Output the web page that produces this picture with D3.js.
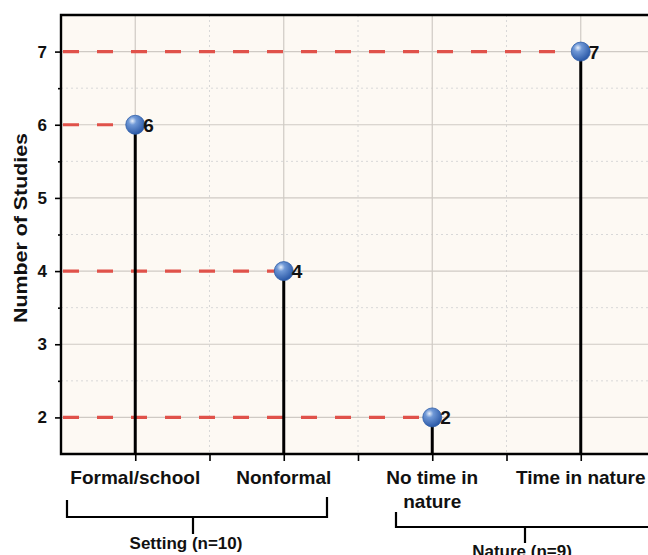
<!DOCTYPE html>
<html>
<head>
	<title>number of studies</title>
	<script src="https://cdn.jsdelivr.net/npm/d3@7"></script>
	<style>
		body { margin: 0; background: #fff; }
		text { font-family: "Liberation Sans", Arial, sans-serif; font-weight: bold; fill: #111; }
	</style>
</head>
<body>
	<script type="text/javascript">

		var categories = ["Formal/school", "Nonformal", "No time in\nnature", "Time in nature"];
		var counts = [6, 4, 2, 7];
		var yTicks = [2, 3, 4, 5, 6, 7];

		var width = 648;
		var height = 555;
		var padLeft = 61, padTop = 15, padBottom = 454;
		var step = 148.5;

		var x = d3.scaleLinear()
			.domain([-0.5, 3.5])
			.range([padLeft, padLeft + step * 4]);

		var y = d3.scaleLinear()
			.domain([1.5, 7.5])
			.range([padBottom, padTop]);

		var svg = d3.select("body").append("svg")
			.attr("width", width)
			.attr("height", height);

		var defs = svg.append("defs");
		var grad = defs.append("radialGradient")
			.attr("id", "ball")
			.attr("cx", "35%").attr("cy", "30%").attr("r", "70%");
		grad.append("stop").attr("offset", "0%").attr("stop-color", "#e8f0fb");
		grad.append("stop").attr("offset", "30%").attr("stop-color", "#6f98d6");
		grad.append("stop").attr("offset", "100%").attr("stop-color", "#2c5aa8");

		// plot background
		svg.append("rect")
			.attr("x", padLeft).attr("y", padTop)
			.attr("width", x(3.5) - padLeft).attr("height", padBottom - padTop)
			.attr("fill", "#fdf9f3");

		var minorY = d3.range(2.5, 7.5, 1);
		var minorX = [0.5, 1.5, 2.5];
		var catIdx = d3.range(categories.length);

		// grid
		svg.selectAll(".gyMinor").data(minorY).enter().append("line")
			.attr("x1", padLeft).attr("x2", x(3.5))
			.attr("y1", function (d) { return y(d); }).attr("y2", function (d) { return y(d); })
			.attr("stroke", "#d8d8d8").attr("stroke-dasharray", "2,3").attr("stroke-width", 1);
		svg.selectAll(".gxMinor").data(minorX).enter().append("line")
			.attr("y1", padTop).attr("y2", padBottom)
			.attr("x1", function (d) { return x(d); }).attr("x2", function (d) { return x(d); })
			.attr("stroke", "#d8d8d8").attr("stroke-dasharray", "2,3").attr("stroke-width", 1);
		svg.selectAll(".gy").data(yTicks).enter().append("line")
			.attr("x1", padLeft).attr("x2", x(3.5))
			.attr("y1", function (d) { return y(d); }).attr("y2", function (d) { return y(d); })
			.attr("stroke", "#cfcac4").attr("stroke-width", 1.2);
		svg.selectAll(".gx").data(catIdx).enter().append("line")
			.attr("y1", padTop).attr("y2", padBottom)
			.attr("x1", function (d) { return x(d); }).attr("x2", function (d) { return x(d); })
			.attr("stroke", "#cfcac4").attr("stroke-width", 1.2);

		// dashed reference lines
		svg.selectAll(".ref").data(counts).enter().append("line")
			.attr("x1", padLeft + 2)
			.attr("x2", function (d, i) { return x(i); })
			.attr("y1", function (d) { return y(d); })
			.attr("y2", function (d) { return y(d); })
			.attr("stroke", "#e0524a")
			.attr("stroke-width", 3.2)
			.attr("stroke-dasharray", "16,18");

		// stems
		svg.selectAll(".stem").data(counts).enter().append("line")
			.attr("x1", function (d, i) { return x(i); })
			.attr("x2", function (d, i) { return x(i); })
			.attr("y1", function (d) { return y(d); })
			.attr("y2", padBottom)
			.attr("stroke", "#000")
			.attr("stroke-width", 3);

		// axes
		var yAxis = d3.axisLeft(y).tickValues(yTicks).tickSize(6).tickPadding(8).tickFormat(d3.format("d"));
		var gy = svg.append("g").attr("transform", "translate(" + padLeft + ",0)").call(yAxis);
		gy.select(".domain").remove();
		gy.selectAll("text").style("font-size", "17px").style("font-weight", "bold");
		gy.selectAll("line").attr("stroke-width", 1.6);
		var yMinorAxis = d3.axisLeft(y).tickValues(minorY).tickSize(3).tickFormat("");
		var gym = svg.append("g").attr("transform", "translate(" + padLeft + ",0)").call(yMinorAxis);
		gym.select(".domain").remove();
		gym.selectAll("line").attr("stroke-width", 1.6);

		var xAxis = d3.axisBottom(x).tickValues(catIdx.concat(minorX)).tickSize(7).tickFormat("");
		var gx = svg.append("g").attr("transform", "translate(0," + padBottom + ")").call(xAxis);
		gx.select(".domain").remove();
		gx.selectAll("line").attr("stroke-width", 1.6);

		// frame (left, top, bottom)
		svg.append("path")
			.attr("d", "M" + (x(3.5) + 10) + "," + padTop + "H" + padLeft + "V" + padBottom + "H" + (x(3.5) + 10))
			.attr("fill", "none").attr("stroke", "#000").attr("stroke-width", 2.4);

		// category labels
		svg.selectAll(".cat").data(categories).enter().append("text")
			.attr("x", function (d, i) { return x(i); })
			.attr("y", 484)
			.attr("text-anchor", "middle")
			.style("font-size", "19px")
			.each(function (d) {
				var t = d3.select(this);
				d.split("\n").forEach(function (s, k) {
					t.append("tspan").attr("x", t.attr("x")).attr("dy", k ? 24 : 0).text(s);
				});
			});

		// points
		svg.selectAll(".pt").data(counts).enter().append("circle")
			.attr("cx", function (d, i) { return x(i); })
			.attr("cy", function (d) { return y(d); })
			.attr("r", 9.5)
			.attr("fill", "url(#ball)")
			.attr("stroke", "#2f5ea8").attr("stroke-width", 0.8);

		svg.selectAll(".val").data(counts).enter().append("text")
			.attr("x", function (d, i) { return x(i) + 8; })
			.attr("y", function (d) { return y(d) + 7; })
			.style("font-size", "19px")
			.text(function (d) { return d; });

		// y label
		svg.append("text")
			.attr("transform", "translate(27,228) rotate(-90)")
			.attr("text-anchor", "middle")
			.style("font-size", "19px")
			.attr("textLength", 190)
			.attr("lengthAdjust", "spacingAndGlyphs")
			.text("Number of Studies");

		// group brackets
		var bracket = svg.append("g").attr("fill", "none").attr("stroke", "#000").attr("stroke-width", 2.2);
		bracket.append("path").attr("d", "M67,500V517H327V497");
		bracket.append("path").attr("d", "M193,517V534");
		bracket.append("path").attr("d", "M396,512V527H660");
		bracket.append("path").attr("d", "M525,527V543");

		svg.append("text").attr("x", 186).attr("y", 549).attr("text-anchor", "middle")
			.style("font-size", "17px").text("Setting (n=10)");
		svg.append("text").attr("x", 522).attr("y", 557).attr("text-anchor", "middle")
			.style("font-size", "17px").text("Nature (n=9)");

	</script>
</body>
</html>
